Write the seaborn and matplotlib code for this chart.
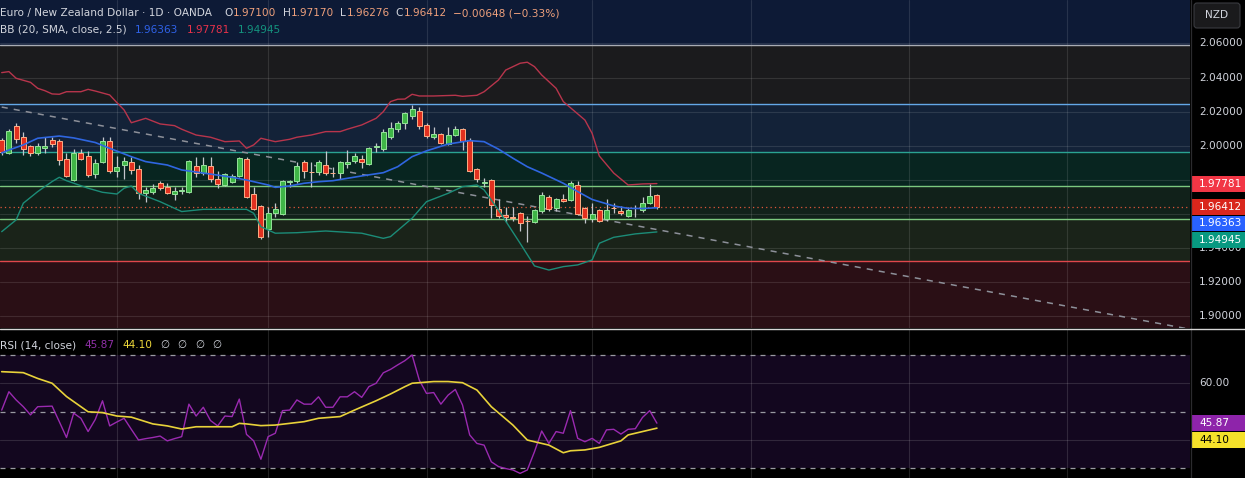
import numpy as np
import pandas as pd
import seaborn as sns
import matplotlib.pyplot as plt
from matplotlib.patches import Rectangle, FancyBboxPatch
from matplotlib.lines import Line2D

sns.set_theme(style='dark')
plt.rcParams['font.family'] = ['DejaVu Sans']

# daily EUR/NZD candles
candle_open = [2.0034, 1.9959, 2.0116, 2.0050, 1.9997, 1.9959, 1.9989, 2.0032, 2.0028, 1.9921,
               1.9801, 1.9956, 1.9940, 1.9837, 1.9907, 2.0028, 1.9854, 1.9889, 1.9903, 1.9864,
               1.9721, 1.9731, 1.9780, 1.9756, 1.9715, 1.9735, 1.9731, 1.9880, 1.9842, 1.9880,
               1.9803, 1.9770, 1.9789, 1.9821, 1.9921, 1.9715, 1.9647, 1.9510, 1.9604, 1.9600,
               1.9789, 1.9792, 1.9905, 1.9848, 1.9844, 1.9887, 1.9842, 1.9839, 1.9891, 1.9913,
               1.9921, 1.9891, 1.9991, 1.9979, 2.0053, 2.0100, 2.0132, 2.0175, 2.0204, 2.0122,
               2.0050, 2.0069, 2.0009, 2.0065, 2.0098, 2.0034, 1.9862, 1.9783, 1.9799, 1.9629,
               1.9594, 1.9580, 1.9604, 1.9561, 1.9553, 1.9617, 1.9701, 1.9633, 1.9688, 1.9682,
               1.9768, 1.9637, 1.9569, 1.9623, 1.9572, 1.9637, 1.9619, 1.9590, 1.9633, 1.9623,
               1.9662, 1.97100]
candle_high = [2.0044, 2.0097, 2.0132, 2.0081, 2.0003, 2.0015, 2.0050, 2.0050, 2.0038, 1.9956,
               1.9979, 1.9981, 1.9969, 1.9921, 2.0053, 2.0053, 1.9940, 1.9936, 1.9932, 1.9887,
               1.9756, 1.9776, 1.9793, 1.9780, 1.9756, 1.9760, 1.9917, 1.9932, 1.9932, 1.9932,
               1.9852, 1.9842, 1.9834, 1.9932, 1.9932, 1.9756, 1.9651, 1.9639, 1.9663, 1.9799,
               1.9799, 1.9907, 1.9917, 1.9903, 1.9917, 1.9969, 1.9877, 1.9913, 1.9975, 1.9959,
               1.9946, 1.9994, 2.0018, 2.0097, 2.0139, 2.0147, 2.0200, 2.0239, 2.0229, 2.0135,
               2.0108, 2.0077, 2.0108, 2.0116, 2.0104, 2.0044, 1.9868, 1.9809, 1.9807, 1.9686,
               1.9643, 1.9639, 1.9614, 1.9588, 1.9627, 1.9731, 1.9711, 1.9696, 1.9715, 1.9795,
               1.9795, 1.9643, 1.9663, 1.9627, 1.9690, 1.9663, 1.9648, 1.9643, 1.9653, 1.9698,
               1.9776, 1.97170]
candle_low = [1.9946, 1.9950, 2.0015, 1.9944, 1.9940, 1.9946, 1.9956, 1.9991, 1.9886, 1.9815,
              1.9792, 1.9917, 1.9819, 1.9813, 1.9897, 1.9842, 1.9815, 1.9807, 1.9834, 1.9688,
              1.9669, 1.9719, 1.9741, 1.9717, 1.9682, 1.9717, 1.9725, 1.9819, 1.9829, 1.9789,
              1.9751, 1.9764, 1.9783, 1.9815, 1.9692, 1.9623, 1.9452, 1.9467, 1.9584, 1.9594,
              1.9756, 1.9780, 1.9809, 1.9756, 1.9829, 1.9829, 1.9815, 1.9803, 1.9871, 1.9901,
              1.9868, 1.9887, 1.9963, 1.9971, 2.0038, 2.0081, 2.0097, 2.0155, 2.0097, 2.0044,
              2.0038, 2.0009, 2.0005, 2.0057, 1.9975, 1.9848, 1.9789, 1.9756, 1.9575, 1.9575,
              1.9551, 1.9561, 1.9500, 1.9437, 1.9545, 1.9604, 1.9619, 1.9619, 1.9670, 1.9678,
              1.9594, 1.9549, 1.9555, 1.9555, 1.9561, 1.9604, 1.9594, 1.9584, 1.9580, 1.9612,
              1.9658, 1.96276]
candle_close = [1.9962, 2.0087, 2.0038, 1.9983, 1.9956, 1.9999, 1.9999, 2.0009, 1.9917, 1.9821,
                1.9959, 1.9924, 1.9831, 1.9897, 2.0028, 1.9850, 1.9876, 1.9911, 1.9860, 1.9725,
                1.9742, 1.9752, 1.9754, 1.9721, 1.9736, 1.9741, 1.9911, 1.9839, 1.9886, 1.9803,
                1.9776, 1.9833, 1.9821, 1.9926, 1.9698, 1.9627, 1.9467, 1.9604, 1.9629, 1.9793,
                1.9793, 1.9881, 1.9852, 1.9844, 1.9903, 1.9839, 1.9839, 1.9905, 1.9905, 1.9940,
                1.9907, 1.9985, 1.9999, 2.0081, 2.0104, 2.0132, 2.0190, 2.0214, 2.0118, 2.0057,
                2.0069, 2.0015, 2.0065, 2.0097, 2.0026, 1.9854, 1.9803, 1.9789, 1.9652, 1.9590,
                1.9580, 1.9575, 1.9545, 1.9557, 1.9623, 1.9711, 1.9629, 1.9688, 1.9674, 1.9783,
                1.9600, 1.9575, 1.9598, 1.9561, 1.9623, 1.9633, 1.9604, 1.9623, 1.9637, 1.9666,
                1.9705, 1.96412]

# Bollinger Bands (20, 2.5), sampled along the drawn lines
bb_upper_idx = [0, 1, 2, 4, 5, 6, 7, 8, 9, 11, 12, 13, 15, 16, 17, 18, 20, 22, 24, 25, 27, 29, 31,
                33, 34, 35, 36, 38, 40, 41, 43, 45, 47, 48, 50, 52, 53, 54, 55, 56, 57, 58, 60, 63,
                64, 66, 67, 69, 70, 72, 73, 74, 75, 77, 78, 81, 82, 83, 85, 87, 89, 91]
bb_upper = [2.0429, 2.0435, 2.0396, 2.0372, 2.0337, 2.0323, 2.0304, 2.0302, 2.0317, 2.0317, 2.0331,
            2.0321, 2.0298, 2.0253, 2.0210, 2.0135, 2.0161, 2.0128, 2.0118, 2.0097, 2.0063, 2.0050,
            2.0024, 2.0028, 1.9985, 2.0005, 2.0044, 2.0024, 2.0038, 2.0050, 2.0063, 2.0083, 2.0083,
            2.0097, 2.0122, 2.0161, 2.0200, 2.0259, 2.0273, 2.0274, 2.0302, 2.0292, 2.0292, 2.0296,
            2.0290, 2.0296, 2.0317, 2.0386, 2.0444, 2.0484, 2.0490, 2.0464, 2.0415, 2.0337, 2.0259,
            2.0151, 2.0073, 1.9940, 1.9840, 1.9770, 1.9776, 1.97781]
bb_basis_idx = [0, 1, 3, 5, 8, 10, 13, 15, 18, 20, 23, 25, 29, 32, 34, 37, 38, 40, 42, 44, 46, 50,
                53, 55, 57, 59, 62, 65, 67, 69, 71, 73, 75, 78, 80, 82, 85, 87, 89, 91]
bb_basis = [1.9958, 1.9975, 2.0005, 2.0044, 2.0057, 2.0046, 2.0019, 1.9985, 1.9936, 1.9907, 1.9887,
            1.9858, 1.9834, 1.9815, 1.9799, 1.9770, 1.9756, 1.9764, 1.9780, 1.9789, 1.9795, 1.9823,
            1.9842, 1.9877, 1.9936, 1.9970, 2.0010, 2.0030, 2.0024, 1.9980, 1.9927, 1.9877, 1.9840,
            1.9780, 1.9731, 1.9685, 1.9647, 1.9633, 1.9632, 1.96363]
bb_lower_idx = [0, 2, 3, 5, 7, 8, 9, 12, 14, 16, 17, 18, 19, 22, 25, 28, 34, 35, 36, 38, 41, 45,
                50, 53, 54, 57, 59, 62, 64, 66, 67, 69, 72, 74, 76, 78, 80, 82, 83, 85, 88, 91]
bb_lower = [1.9496, 1.9565, 1.9663, 1.9731, 1.9790, 1.9815, 1.9795, 1.9751, 1.9727, 1.9717, 1.9751,
            1.9764, 1.9721, 1.9672, 1.9614, 1.9627, 1.9627, 1.9604, 1.9525, 1.9487, 1.9490, 1.9500,
            1.9487, 1.9457, 1.9467, 1.9575, 1.9672, 1.9721, 1.9760, 1.9770, 1.9741, 1.9623, 1.9428,
            1.9295, 1.9271, 1.9291, 1.9301, 1.9330, 1.9428, 1.9463, 1.9483, 1.94945]

# RSI (14) and its moving average
rsi = [50.5, 57.0, 54.1, 51.7, 48.8, 51.7, 51.8, 51.9, 46.4, 40.8,
       49.4, 47.6, 42.9, 47.2, 53.8, 44.9, 46.3, 47.6, 43.7, 39.9,
       40.4, 40.8, 41.3, 39.6, 40.4, 41.1, 52.6, 48.4, 51.5, 46.8,
       44.9, 48.4, 48.2, 54.4, 41.9, 39.6, 33.1, 41.1, 42.3, 50.3,
       50.5, 54.1, 52.6, 52.6, 55.2, 51.5, 51.5, 55.2, 55.2, 57.0,
       55.0, 58.8, 60.0, 63.7, 64.9, 66.5, 68.0, 70.0, 61.1, 56.4,
       56.7, 52.6, 55.8, 57.8, 52.3, 41.7, 38.7, 38.1, 32.2, 30.5,
       29.8, 29.3, 28.1, 29.3, 35.8, 43.1, 38.7, 42.9, 42.3, 50.3,
       40.5, 39.3, 40.5, 38.7, 43.5, 43.7, 42.0, 43.7, 43.9, 47.9,
       50.3, 45.87]
rsi_ma_idx = [0, 3, 5, 7, 9, 12, 14, 16, 18, 21, 23, 25, 27, 32, 33, 34, 36, 38, 40, 42, 44, 47,
              49, 52, 54, 56, 57, 60, 62, 64, 66, 68, 71, 73, 76, 78, 79, 81, 83, 86, 87, 89, 91]
rsi_ma = [64.1, 63.75, 61.7, 60.0, 55.3, 49.9, 49.6, 48.4, 48.0, 45.6, 44.9, 43.8, 44.6, 44.6, 45.8,
          45.6, 45.0, 45.2, 45.8, 46.4, 47.6, 48.2, 50.5, 53.8, 56.2, 58.8, 60.0, 60.6, 60.6, 60.2,
          57.6, 51.7, 45.2, 39.9, 38.1, 35.4, 36.1, 36.4, 37.3, 39.6, 41.7, 42.9, 44.10]

# drawn levels: zone boundaries (top to bottom) and their line / fill colours
zone_levels = [2.0591, 2.0243, 1.9962, 1.9762, 1.9571, 1.9324]
zone_line_colors = ['#a9acb4', '#64a8e8', '#2aa392', '#7cc87f', '#7cc87f', '#e0474c']
zone_fills = ['#0d1a36', '#1b1b1d', '#132238', '#082520', '#11211a', '#1a2319', '#2a0f15']
trend_idx = [0, 165]
trend_price = [2.0227, 1.8924]

price_ticks = [2.06, 2.04, 2.02, 2.00, 1.98, 1.96, 1.94, 1.92, 1.90]
month_idx = [16, 37, 59, 82, 104, 126, 148]

W, H = 1245, 478
PMAX, PMIN = 2.0855, 1.8931
RMAX, RMIN = 78.85, 26.46
XMIN, XMAX = -0.236, 165.04
FS = 7.6
TXT = '#d1d4dc'


def fx(px):
    return px / W


def fy(py):
    return 1 - py / H


fig = plt.figure(figsize=(W / 100, H / 100), dpi=100, facecolor='black')
ax = fig.add_axes([0, fy(328), fx(1190), 328 / H])
ax_rsi = fig.add_axes([0, 0, fx(1190), 148 / H])
ax_ps = fig.add_axes([fx(1190), fy(328), fx(55), 328 / H])
ax_rs = fig.add_axes([fx(1190), 0, fx(55), 148 / H])

for a in (ax, ax_rsi, ax_ps, ax_rs):
    a.set_facecolor('black')
    a.grid(False)
    a.set_xticks([])
    a.set_yticks([])
    for s in a.spines.values():
        s.set_visible(False)

# ---------------- price pane ----------------
ax.set_xlim(XMIN, XMAX)
ax.set_ylim(PMIN, PMAX)

bounds = [PMAX] + zone_levels + [PMIN]
for k, c in enumerate(zone_fills):
    ax.axhspan(bounds[k + 1], bounds[k], color=c, lw=0, zorder=0)
for p in price_ticks:
    ax.axhline(p, color=(1, 1, 1, 0.11), lw=0.8, zorder=1)
for m in month_idx:
    ax.axvline(m, color=(1, 1, 1, 0.11), lw=0.8, zorder=1)
for lv, c in zip(zone_levels, zone_line_colors):
    ax.axhline(lv, color=c, lw=1.0, zorder=2)

ax.plot(trend_idx, trend_price, color='#8d9099', lw=1.1, ls=(0, (4, 4)), zorder=2.5)
ax.axhline(candle_close[-1], color='#e0573a', lw=0.9, ls=(0, (1, 2.5)), zorder=2.5)

df = pd.DataFrame({'o': candle_open, 'h': candle_high, 'l': candle_low, 'c': candle_close})
df['i'] = np.arange(len(df))
up = df['c'] >= df['o']
fill = np.where(up, '#3fb547', '#e1301f')
edge = np.where(up, '#95e39a', '#ffad85')
body = np.maximum((df['c'] - df['o']).abs(), 0.00025)
ax.vlines(df['i'], df['l'], df['h'], color='#c4c6cc', lw=0.9, zorder=4)
ax.bar(df['i'], body, bottom=np.minimum(df['o'], df['c']), width=0.7,
       color=fill, edgecolor=edge, linewidth=0.7, zorder=5)

sns.lineplot(x=bb_upper_idx, y=bb_upper, ax=ax, color='#b8354c', linewidth=1.0, zorder=6)
sns.lineplot(x=bb_basis_idx, y=bb_basis, ax=ax, color='#2f66e0', linewidth=1.2, zorder=6)
sns.lineplot(x=bb_lower_idx, y=bb_lower, ax=ax, color='#1c8c78', linewidth=1.0, zorder=6)
ax.set_xlim(XMIN, XMAX)
ax.set_ylim(PMIN, PMAX)
ax.set_xlabel('')
ax.set_ylabel('')

# ---------------- RSI pane ----------------
ax_rsi.set_xlim(XMIN, XMAX)
ax_rsi.set_ylim(RMIN, RMAX)
ax_rsi.axhspan(30, 70, color='#13071f', lw=0, zorder=0)
for lv in (60, 40):
    ax_rsi.axhline(lv, color=(1, 1, 1, 0.13), lw=0.8, zorder=1)
for m in month_idx:
    ax_rsi.axvline(m, color=(1, 1, 1, 0.13), lw=0.8, zorder=1)
for lv in (70, 50, 30):
    ax_rsi.axhline(lv, color='#9a9aa2', lw=0.9, ls=(0, (4, 4)), zorder=2)
sns.lineplot(x=np.arange(len(rsi)), y=rsi, ax=ax_rsi, color='#9a2ab0', linewidth=1.0, zorder=4)
sns.lineplot(x=rsi_ma_idx, y=rsi_ma, ax=ax_rsi, color='#e8d23a', linewidth=1.2, zorder=5)
ax_rsi.set_xlim(XMIN, XMAX)
ax_rsi.set_ylim(RMIN, RMAX)
ax_rsi.set_xlabel('')
ax_rsi.set_ylabel('')

# ---------------- right scales ----------------
ax_ps.set_xlim(0, 55)
ax_ps.set_ylim(PMIN, PMAX)
ax_rs.set_xlim(0, 55)
ax_rs.set_ylim(RMIN, RMAX)
ppx = (PMAX - PMIN) / 328
rpx = (RMAX - RMIN) / 148


def value_boxes(a, items, step, fmt):
    # stack last-value tags downwards so they do not overlap; return their spans
    items = sorted(items, key=lambda t: -t[0])
    prev = None
    spans = []
    for v, bg, fg in items:
        c = v if prev is None else min(v, prev - step)
        prev = c
        a.add_patch(Rectangle((1.5, c - step * 0.48), 53.5, step * 0.96,
                              facecolor=bg, edgecolor='none', zorder=3))
        a.text(9, c, fmt.format(v), color=fg, fontsize=FS, va='center', ha='left', zorder=4)
        spans.append((c - step * 0.5, c + step * 0.5))
    return spans


def hidden(v, spans, margin):
    return any(lo + margin < v < hi - margin for lo, hi in spans)


pspans = value_boxes(ax_ps, [(bb_upper[-1], '#f23645', 'white'),
                             (candle_close[-1], '#d9261c', 'white'),
                             (bb_basis[-1], '#2962ff', 'white'),
                             (bb_lower[-1], '#089981', 'white')], 16.5 * ppx, '{:.5f}')
# merge touching spans (tags stacked edge to edge)
merged = []
for lo, hi in sorted(pspans):
    if merged and lo <= merged[-1][1] + 1e-9:
        merged[-1] = (merged[-1][0], max(hi, merged[-1][1]))
    else:
        merged.append((lo, hi))
for p in price_ticks:
    if not hidden(p, merged, 1.0 * ppx):
        ax_ps.text(9, p, f'{p:.5f}', color=TXT, fontsize=FS, va='center', ha='left', zorder=2)

value_boxes(ax_rs, [(rsi[-1], '#8e24aa', 'white'),
                    (rsi_ma[-1], '#f5e12a', 'black')], 16.5 * rpx, '{:.2f}')
ax_rs.text(9, 60, '60.00', color=TXT, fontsize=FS, va='center', ha='left')

nzd = FancyBboxPatch((4, PMAX - 28 * ppx), 46, 25 * ppx,
                     boxstyle='round,pad=0,rounding_size=3', mutation_aspect=ppx,
                     facecolor='#1a1a1c', edgecolor='#3a3b40', lw=0.8, zorder=3)
ax_ps.add_patch(nzd)
ax_ps.text(27, PMAX - 15.5 * ppx, 'NZD', color=TXT, fontsize=FS, va='center', ha='center', zorder=4)

fig.add_artist(Line2D([fx(1190.5), fx(1190.5)], [0, 1], color='#2b2b2e', lw=0.9))
fig.add_artist(Line2D([0, 1], [fy(329), fy(329)], color='#d6d6d6', lw=1.0))

# ---------------- legends / headers ----------------
renderer = fig.canvas.get_renderer()


def chain(y_px, parts):
    x = 0.5
    for s, col, gap in parts:
        t = fig.text(fx(x), fy(y_px), s, color=col, fontsize=FS, ha='left', va='center')
        x += t.get_window_extent(renderer=renderer).width + gap


sal = '#eea07c'
chain(13, [('Euro / New Zealand Dollar · 1D · OANDA', TXT, 12),
           ('O', TXT, 0.5), ('1.97100', sal, 6),
           ('H', TXT, 0.5), ('1.97170', sal, 6),
           ('L', TXT, 0.5), ('1.96276', sal, 6),
           ('C', TXT, 0.5), ('1.96412', sal, 6),
           ('−0.00648 (−0.33%)', sal, 0)])
chain(30, [('BB (20, SMA, close, 2.5)', TXT, 8),
           ('1.96363', '#2f62e8', 8),
           ('1.97781', '#e8324a', 8),
           ('1.94945', '#14937e', 0)])
chain(345, [('RSI (14, close)', TXT, 8),
            ('45.87', '#9030a8', 8),
            ('44.10', '#eed83a', 8),
            ('∅', TXT, 8), ('∅', TXT, 8), ('∅', TXT, 8), ('∅', TXT, 0)])

fig.savefig('out.png', dpi=100, facecolor='black')
